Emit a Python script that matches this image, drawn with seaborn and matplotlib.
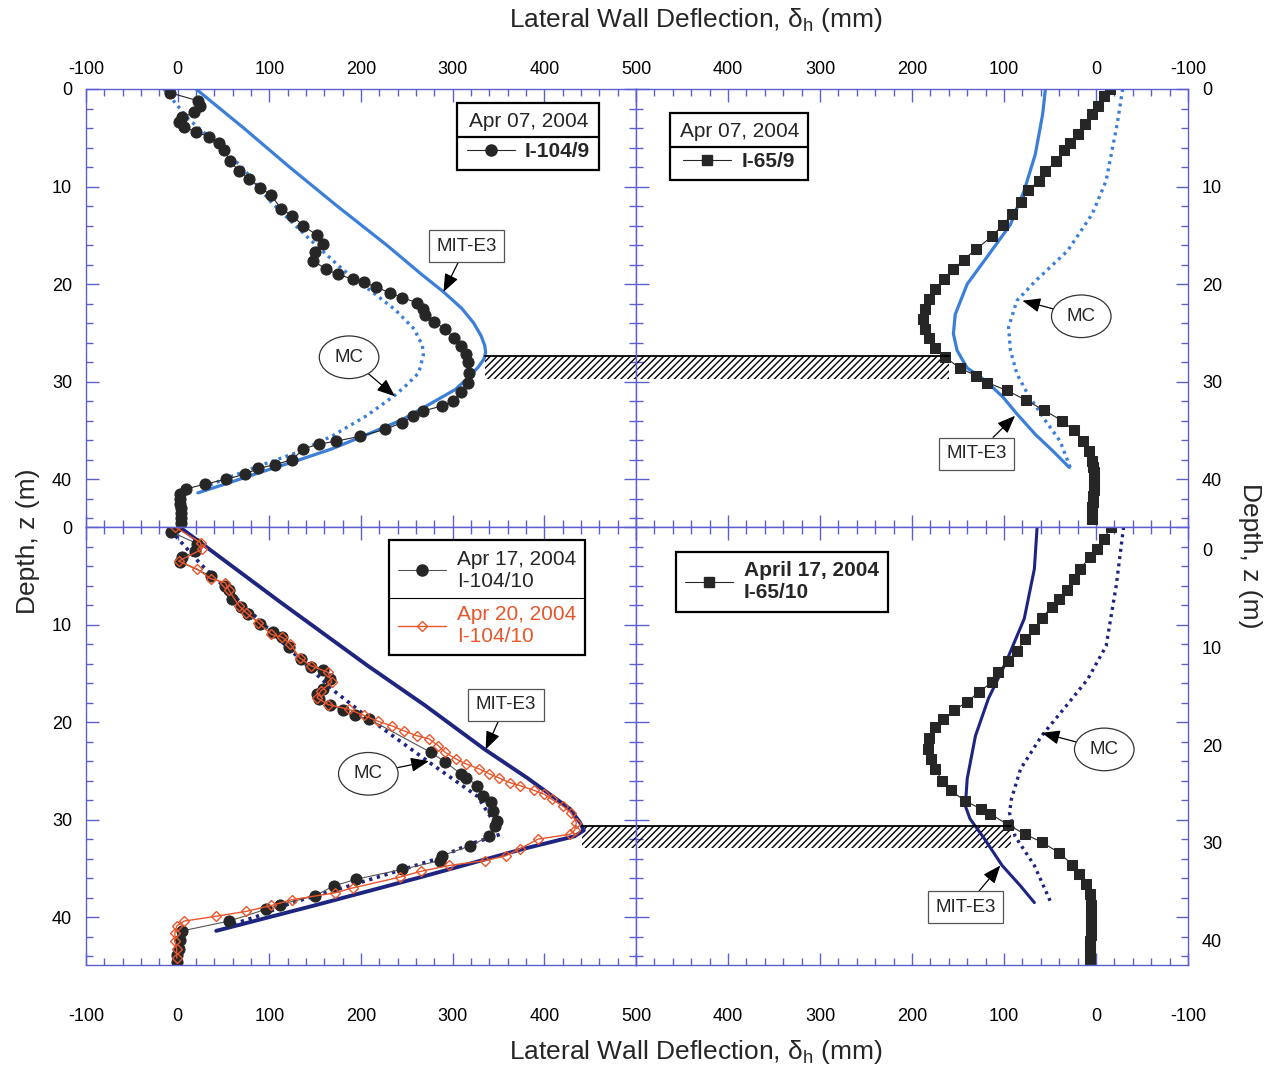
import matplotlib
matplotlib.use("Agg")
import matplotlib.pyplot as plt
import matplotlib.transforms as mtransforms
from matplotlib.lines import Line2D
from matplotlib.ticker import MultipleLocator, FuncFormatter
import seaborn as sns

# ---------------- data (deflection in mm, depth in m) ----------------
# Top-left: I-104/9, Apr 07 2004
i104_9_depth = [0.4, 1.2, 1.7, 2.4, 2.9, 3.4, 3.9, 4.4, 4.9, 5.5, 6.3, 7.4, 8.4, 9.2, 10.1, 10.9,
                12.3, 13.0, 14.0, 15.0, 15.9, 16.7, 17.6, 18.5, 19.0, 19.5, 19.8, 20.3, 20.9, 21.4,
                21.9, 22.6, 23.2, 23.9, 24.6, 25.5, 26.3, 27.2, 28.0, 29.1, 30.1, 31.1, 32.0, 32.5,
                33.0, 33.5, 34.2, 34.9, 35.6, 36.1, 36.4, 36.9, 38.0, 38.5, 38.9, 39.5, 40.0, 40.5,
                41.0, 41.5, 42.0, 42.5, 43.0, 43.5, 44.0, 44.5]
i104_9_defl = [-8, 22, 24, 18, 5, 1, 7, 20, 34, 45, 51, 57, 67, 78, 90, 102,
               113, 125, 137, 152, 158, 150, 148, 162, 175, 191, 203, 216, 232, 245,
               261, 268, 270, 280, 292, 301, 309, 315, 317, 318, 317, 309, 300, 288,
               268, 257, 245, 226, 199, 173, 154, 137, 125, 106, 88, 73, 53, 30,
               9, 3, 3, 3, 4, 4, 4, 4]
mit_tl_depth = [0, 4, 8, 12, 16, 19, 20.8, 22.5, 24.0, 25.3, 26.3, 27.0, 27.7, 28.5, 29.4, 30.8,
                32.3, 33.9, 35.4, 36.9, 38.1, 39.3, 40.4, 41.4]
mit_tl_defl = [20, 72, 122, 174, 228, 266, 290, 310, 323, 331, 335, 336, 334, 328, 319, 303,
               275, 245, 207, 168, 130, 90, 55, 22]
mc_tl_depth = [0, 3.1, 4.4, 8.0, 11.6, 15.4, 18.5, 20.5, 22.6, 24.6, 26.3, 27.3, 29.1, 30.4,
               31.4, 33.5, 35.6, 37.3, 38.6, 39.7, 41.0]
mc_tl_defl = [-15, 12, 28, 70, 102, 144, 180, 208, 237, 258, 267, 268, 263, 249,
              237, 206, 168, 129, 90, 59, 24]

# Top-right: I-65/9, Apr 07 2004
i65_9_depth = [0, 0.7, 1.7, 2.6, 3.6, 4.6, 5.5, 6.3, 7.4, 8.4, 9.4, 10.4, 11.6, 12.8, 13.9, 15.1,
               16.4, 17.5, 18.5, 19.5, 20.5, 21.5, 22.6, 23.6, 24.6, 25.5, 26.5, 27.5, 28.6, 29.4,
               30.1, 30.9, 31.9, 32.9, 34.0, 35.0, 36.1, 37.1, 38.1, 38.7, 39.3, 39.9, 40.5, 41.1,
               41.7, 42.3, 42.9, 43.5, 44.1]
i65_9_defl = [-15, -9, -2, 4, 12, 20, 28, 35, 43, 55, 62, 74, 82, 91, 101, 113,
              130, 144, 155, 165, 175, 182, 186, 188, 186, 182, 175, 164, 148, 130,
              118, 97, 76, 57, 37, 24, 14, 8, 4, 3, 2, 2, 2, 2,
              3, 3, 4, 4, 4]
mit_tr_depth = [0, 2.6, 6.7, 10.4, 13.9, 16.9, 20.0, 23.1, 25.1, 26.8, 28.6, 29.9, 31.6, 33.3,
                35.4, 37.1, 38.8]
mit_tr_defl = [55, 58, 66, 78, 93, 116, 140, 153, 155, 151, 140, 120, 101, 86, 66, 47, 29]
mc_tr_depth = [0, 3.6, 9.4, 12.8, 16.6, 19.7, 21.7, 24.4, 26.8, 29.2, 31.3, 34.0, 36.1, 38.8]
mc_tr_defl = [-29, -23, -11, 4, 31, 66, 86, 95, 93, 86, 74, 55, 39, 28]

# Bottom-left: I-104/10, Apr 17 and Apr 20 2004
i104_10a_depth = [0, 0.5, 1.7, 2.5, 3.1, 3.6, 5.0, 6.0, 6.5, 7.4, 8.2, 8.9, 9.9, 10.8, 11.3, 12.3,
                  13.5, 14.4, 14.7, 15.6, 16.6, 17.1, 17.6, 18.2, 18.8, 19.3, 19.7, 23.1, 24.1, 25.3,
                  25.7, 26.5, 27.6, 28.2, 29.1, 30.1, 30.6, 31.7, 32.7, 33.7, 34.2, 35.1, 36.1, 36.8,
                  37.8, 38.7, 39.2, 40.4, 41.4, 42.3, 43.3, 43.9, 44.6]
i104_10a_defl = [-2, -7, 21, 19, 5, 3, 36, 52, 56, 59, 69, 77, 90, 104, 114, 121,
                 135, 145, 158, 166, 158, 152, 154, 166, 180, 193, 209, 276, 292, 309,
                 315, 327, 333, 342, 344, 348, 346, 340, 319, 288, 286, 245, 195, 170,
                 150, 112, 96, 56, 5, 3, 1, -1, -1]
i104_10b_depth = [0, 1.6, 2.3, 3.5, 4.3, 5.3, 5.7, 6.5, 8.1, 8.8, 9.8, 11.0, 11.3, 12.0, 13.4, 14.2,
                  14.9, 15.9, 16.8, 17.5, 18.2, 18.7, 19.3, 19.9, 20.4, 20.9, 21.4, 21.7, 22.4, 23.1,
                  23.8, 24.3, 24.8, 25.3, 25.7, 26.2, 26.5, 27.0, 27.4, 27.9, 28.6, 29.3, 30.3, 31.1,
                  31.5, 32.0, 33.0, 33.7, 34.2, 34.7, 35.3, 35.9, 37.0, 37.5, 38.2, 38.8, 39.4, 39.9,
                  40.4, 40.9, 41.6, 42.4, 43.3, 44.2]
i104_10b_defl = [-3, 25, 26, 1, 21, 36, 52, 56, 67, 75, 88, 102, 114, 123, 133, 145,
                 164, 168, 156, 152, 164, 187, 203, 218, 234, 247, 261, 274, 284, 292,
                 304, 315, 329, 340, 350, 362, 373, 389, 400, 408, 420, 429, 435, 433,
                 428, 393, 373, 358, 335, 296, 265, 242, 191, 172, 125, 102, 75, 42,
                 7, -1, -3, -3, -1, -1]
mit_bl_depth = [0, 7.7, 14.2, 18.3, 22.8, 25.7, 28.9, 30.3, 31.1, 31.7, 33.0, 35.9, 38.8, 41.4]
mit_bl_defl = [2, 112, 207, 270, 335, 381, 428, 439, 443, 433, 377, 265, 149, 42]
mc_bl_depth = [0.3, 3.8, 13.5, 16.9, 20.0, 24.5, 27.6, 31.0, 31.5, 32.5, 34.1, 36.8, 38.5, 39.9, 41.1]
mc_bl_defl = [-8, 25, 133, 172, 214, 280, 327, 350, 352, 319, 280, 187, 125, 87, 48]

# Bottom-right: I-65/10, Apr 17 2004
i65_10_depth = [0, 1.2, 2.3, 3.1, 4.3, 5.3, 6.5, 7.4, 8.2, 9.3, 10.5, 11.5, 12.7, 13.7, 14.9, 15.9,
                16.9, 17.9, 18.8, 19.7, 20.5, 21.6, 22.8, 23.8, 24.8, 26.0, 27.0, 28.1, 28.9, 29.4,
                30.5, 31.5, 32.3, 33.4, 34.6, 35.6, 36.6, 37.6, 38.8, 39.4, 40.0, 40.6, 41.2, 41.8,
                42.4, 43.0, 43.6, 44.2, 44.8]
i65_10_defl = [-16, -9, -1, 7, 17, 24, 32, 40, 48, 59, 67, 77, 86, 96, 106, 113,
               127, 140, 154, 166, 175, 181, 183, 179, 175, 167, 158, 142, 125, 115,
               96, 77, 59, 40, 26, 19, 11, 7, 5, 5, 5, 5, 5, 5,
               6, 6, 6, 7, 7]
mit_br_depth = [0, 4.3, 9.4, 13.9, 17.6, 21.4, 25.8, 28.6, 29.9, 32.0, 34.7, 36.8, 38.5]
mit_br_defl = [64, 67, 78, 98, 117, 131, 140, 142, 137, 121, 102, 82, 67]
mc_br_depth = [0, 6.0, 12.2, 15.6, 18.3, 21.4, 24.8, 27.9, 29.3, 31.7, 34.7, 38.5]
mc_br_defl = [-30, -22, -11, 9, 32, 59, 82, 92, 94, 88, 67, 49]

# Excavation bands (depth range, start on left panel, end on right panel)
band_top_depth = [27.4, 29.7]
band_top_x = [335, 160]
band_bot_depth = [30.6, 32.9]
band_bot_x = [441, 92]

x_ticks = [-100, 0, 100, 200, 300, 400, 500]
y_ticks = [0, 10, 20, 30, 40]
x_title = "Lateral Wall Deflection, δ$_\\mathrm{h}$ (mm)"
y_title = "Depth, z (m)"

# ---------------- style ----------------
sns.set_theme(style="white")
plt.rcParams["font.family"] = ["Liberation Sans", "DejaVu Sans"]
plt.rcParams["mathtext.fontset"] = "custom"
plt.rcParams["mathtext.rm"] = "Liberation Sans"
plt.rcParams["mathtext.it"] = "Liberation Sans:italic"
plt.rcParams["hatch.linewidth"] = 1.0

BLUE = "#3b7fd9"
NAVY = "#1e2580"
ORANGE = "#e8572c"
DARK = "#262626"
SPINE = "#5c60cf"

W, H = 1268, 1077
fig = plt.figure(figsize=(W / 100, H / 100), dpi=100)


def rect(x0, y0, x1, y1):
    return [x0 / W, 1 - y1 / H, (x1 - x0) / W, (y1 - y0) / H]


ax_tl = fig.add_axes(rect(86, 89, 636, 527))
ax_tr = fig.add_axes(rect(636, 89, 1188, 527))
ax_bl = fig.add_axes(rect(86, 527, 636, 965))
ax_br = fig.add_axes(rect(636, 527, 1188, 965))


def style(ax, left, top):
    if left:
        ax.set_xlim(-100, 500)
    else:
        ax.set_xlim(500, -100)
    ax.set_ylim(44.9, 0)
    ax.set_xticks(x_ticks)
    ax.set_yticks(y_ticks)
    ax.xaxis.set_minor_locator(MultipleLocator(20))
    ax.yaxis.set_minor_locator(MultipleLocator(2))
    if not left:
        ax.xaxis.set_major_formatter(FuncFormatter(lambda v, p: "" if v == 500 else f"{v:.0f}"))
    else:
        ax.xaxis.set_major_formatter(FuncFormatter(lambda v, p: f"{v:.0f}"))
    for s in ax.spines.values():
        s.set_color(SPINE)
        s.set_linewidth(1.0)
    ax.tick_params(which="both", direction="in", top=True, bottom=True, left=True, right=True,
                   color=SPINE, width=1.0)
    ax.tick_params(which="major", length=9)
    ax.tick_params(which="minor", length=5)
    ax.tick_params(axis="x", which="both", labeltop=top, labelbottom=not top, labelsize=13,
                   pad=8 if top else 31, labelcolor="black")
    ax.tick_params(axis="y", which="both", labelleft=left, labelright=not left, labelsize=13,
                   pad=10, labelcolor="black")
    ax.set_xlabel("")
    ax.set_ylabel("")
    ax.set_facecolor("white")


def line(ax, x, y, **kw):
    sns.lineplot(x=x, y=y, sort=False, estimator=None, ax=ax, legend=False, **kw)


def band(ax, x0, x1, d):
    ax.fill_betweenx(d, x0, x1, facecolor="none", edgecolor="black", hatch="/////", linewidth=0)
    ax.plot([x0, x1], [d[0], d[0]], color="black", lw=1.3)


def label(ax, text, tip, center, ellipse=False):
    if ellipse:
        bb = dict(boxstyle="ellipse,pad=0.35", fc="white", ec="#333333", lw=0.9)
    else:
        bb = dict(boxstyle="square,pad=0.4", fc="white", ec="#555555", lw=0.9)
    ax.annotate(text, xy=tip, xytext=center, textcoords="data", ha="center", va="center",
                fontsize=13.5, bbox=bb, zorder=6,
                arrowprops=dict(arrowstyle="-|>,head_length=0.55,head_width=0.22", color="black",
                                lw=0.9, shrinkA=0, shrinkB=0, mutation_scale=20))


# ---- top-left ----
ax = ax_tl
line(ax, mc_tl_defl, mc_tl_depth, color=BLUE, lw=2.4, linestyle=(0, (0.9, 1.3)))
line(ax, mit_tl_defl, mit_tl_depth, color=BLUE, lw=2.3)
line(ax, i104_9_defl, i104_9_depth, color=DARK, lw=0.8, marker="o", markersize=8,
     markerfacecolor=DARK, markeredgecolor=DARK)
band(ax, band_top_x[0], 500, band_top_depth)
label(ax, "MIT-E3", (290, 20.8), (315, 16.1))
label(ax, "MC", (237, 31.5), (187, 27.5), ellipse=True)
style(ax, True, True)

# ---- top-right ----
ax = ax_tr
line(ax, mc_tr_defl, mc_tr_depth, color=BLUE, lw=2.4, linestyle=(0, (0.9, 1.3)))
line(ax, mit_tr_defl, mit_tr_depth, color=BLUE, lw=2.3)
line(ax, i65_9_defl, i65_9_depth, color=DARK, lw=0.8, marker="s", markersize=7.5,
     markerfacecolor=DARK, markeredgecolor=DARK)
band(ax, 500, band_top_x[1], band_top_depth)
label(ax, "MC", (80, 21.7), (16, 23.3), ellipse=True)
label(ax, "MIT-E3", (88, 33.5), (130, 37.4))
style(ax, False, True)

# ---- bottom-left ----
ax = ax_bl
line(ax, mc_bl_defl, mc_bl_depth, color=NAVY, lw=2.6, linestyle=(0, (0.9, 1.3)))
line(ax, mit_bl_defl, mit_bl_depth, color=NAVY, lw=2.8)
line(ax, i104_10a_defl, i104_10a_depth, color="#555555", lw=0.8, marker="o", markersize=8,
     markerfacecolor=DARK, markeredgecolor=DARK)
line(ax, i104_10b_defl, i104_10b_depth, color=ORANGE, lw=1.0, marker="D", markersize=5.5,
     markerfacecolor="none", markeredgecolor=ORANGE, markeredgewidth=1.0)
band(ax, band_bot_x[0], 500, band_bot_depth)
label(ax, "MIT-E3", (336, 22.8), (358, 18.2))
label(ax, "MC", (274, 24.0), (208, 25.3), ellipse=True)
style(ax, True, False)

# ---- bottom-right ----
ax = ax_br
line(ax, mc_br_defl, mc_br_depth, color=NAVY, lw=2.4, linestyle=(0, (0.9, 1.3)))
line(ax, mit_br_defl, mit_br_depth, color=NAVY, lw=2.2)
line(ax, i65_10_defl, i65_10_depth, color=DARK, lw=0.8, marker="s", markersize=7.5,
     markerfacecolor=DARK, markeredgecolor=DARK)
band(ax, 500, band_bot_x[1], band_bot_depth)
label(ax, "MC", (59, 21.1), (-9, 22.8), ellipse=True)
label(ax, "MIT-E3", (104, 34.7), (142, 39.0))
style(ax, False, False)
offset = mtransforms.ScaledTranslation(0, -0.23, fig.dpi_scale_trans)
for lab in ax.yaxis.get_majorticklabels():
    lab.set_transform(lab.get_transform() + offset)

# ---------------- legends ----------------
h_circle = Line2D([], [], color=DARK, lw=0.8, marker="o", markersize=8, markerfacecolor=DARK,
                  markeredgecolor=DARK)
h_square = Line2D([], [], color=DARK, lw=0.8, marker="s", markersize=7.5, markerfacecolor=DARK,
                  markeredgecolor=DARK)
h_circle2 = Line2D([], [], color="#555555", lw=0.8, marker="o", markersize=8,
                   markerfacecolor=DARK, markeredgecolor=DARK)
h_diamond = Line2D([], [], color=ORANGE, lw=1.0, marker="D", markersize=5.5,
                   markerfacecolor="none", markeredgecolor=ORANGE)


def mk_legend(ax, handles, labels, anchor, title=None, bold=True, spacing=0.5):
    leg = ax.legend(handles, labels, title=title, loc="upper left", bbox_to_anchor=anchor,
                    bbox_transform=ax.transAxes, frameon=True, fancybox=False, framealpha=1,
                    edgecolor="black", borderaxespad=0, borderpad=0.45, handlelength=2.3,
                    handletextpad=0.5, labelspacing=spacing,
                    prop=dict(size=15, weight="bold" if bold else "normal"),
                    title_fontproperties=dict(size=15))
    leg.get_frame().set_linewidth(1.6)
    return leg


leg_tl = mk_legend(ax_tl, [h_circle], ["I-104/9"], (0.675, 0.968), title="Apr 07, 2004")
leg_tr = mk_legend(ax_tr, [h_square], ["I-65/9"], (0.062, 0.945), title="Apr 07, 2004")
leg_bl = mk_legend(ax_bl, [h_circle2, h_diamond], ["Apr 17, 2004\nI-104/10", "Apr 20, 2004\nI-104/10"],
                   (0.551, 0.970), bold=False, spacing=0.7)
leg_bl.get_texts()[1].set_color(ORANGE)
leg_br = mk_legend(ax_br, [h_square], ["April 17, 2004\nI-65/10"], (0.0725, 0.943))

# axis titles
fig.text(696 / W, 1 - 20 / H, x_title, ha="center", va="center", fontsize=19)
fig.text(696 / W, 1 - 1052 / H, x_title, ha="center", va="center", fontsize=19)
fig.text(28 / W, 1 - 541 / H, y_title, ha="center", va="center", rotation=90, fontsize=19)
fig.text(1250 / W, 1 - 556 / H, y_title, ha="center", va="center", rotation=-90, fontsize=19)

# separator lines inside the legend boxes
fig.canvas.draw()
r = fig.canvas.get_renderer()
inv = fig.transFigure.inverted()


def hsep(leg, y_disp, lw):
    bb = leg.get_frame().get_window_extent(r)
    (x0, y0), (x1, _) = inv.transform([(bb.x0, y_disp), (bb.x1, y_disp)])
    fig.add_artist(Line2D([x0, x1], [y0, y0], transform=fig.transFigure, color="black", lw=lw,
                          zorder=10))


for leg in (leg_tl, leg_tr):
    tb = leg.get_title().get_window_extent(r)
    t0 = leg.get_texts()[0].get_window_extent(r)
    hsep(leg, (tb.y0 + t0.y1) / 2, 1.6)
t0 = leg_bl.get_texts()[0].get_window_extent(r)
t1 = leg_bl.get_texts()[1].get_window_extent(r)
hsep(leg_bl, (t0.y0 + t1.y1) / 2, 0.8)

fig.savefig("out.png", dpi=100)
